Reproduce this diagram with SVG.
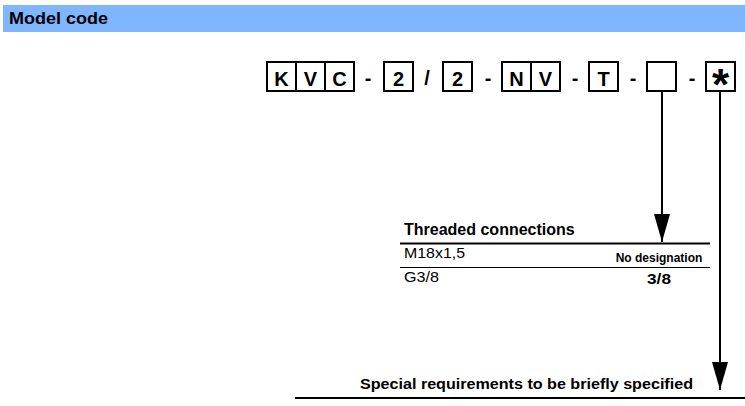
<svg xmlns="http://www.w3.org/2000/svg" width="745" height="406" viewBox="0 0 745 406">
<style>
text{font-family:"Liberation Sans",Arial,sans-serif;fill:#000}
.b{font-weight:bold}
.box{fill:#fff;stroke:#000;stroke-width:2}
.ch{font-size:20px;font-weight:bold;text-anchor:middle}
.sep{font-size:20px;font-weight:bold;text-anchor:middle}
.conn{stroke:#000;stroke-width:2;fill:none;marker-end:url(#arr)}
</style>
<defs>
<marker id="arr" viewBox="0 0 28 16" refX="28" refY="8" markerWidth="28" markerHeight="16" markerUnits="userSpaceOnUse" orient="auto">
<path d="M0,0 L28,8 L0,16 Z" fill="#000"/>
</marker>
</defs>
<rect x="3" y="5" width="742" height="27" fill="#80B5FF"/>
<text x="9" y="23.5" class="b" font-size="17" textLength="99" lengthAdjust="spacingAndGlyphs">Model code</text>

<g id="code-kvc">
<rect class="box" x="267" y="62" width="29" height="29"/>
<rect class="box" x="296" y="62" width="29" height="29"/>
<rect class="box" x="325" y="62" width="29" height="29"/>
<text class="ch" x="281.5" y="85.5">K</text>
<text class="ch" x="310.5" y="85.5">V</text>
<text class="ch" x="339.5" y="85.5">C</text>
</g>
<text class="sep" x="368" y="85">-</text>
<g id="code-2a">
<rect class="box" x="384" y="62" width="29" height="29"/>
<text class="ch" x="398.5" y="85.5">2</text>
</g>
<text class="sep" x="427" y="85">/</text>
<g id="code-2b">
<rect class="box" x="443" y="62" width="29" height="29"/>
<text class="ch" x="457.5" y="85.5">2</text>
</g>
<text class="sep" x="488" y="85">-</text>
<g id="code-nv">
<rect class="box" x="502" y="62" width="29" height="29"/>
<rect class="box" x="531" y="62" width="29" height="29"/>
<text class="ch" x="516.5" y="85.5">N</text>
<text class="ch" x="545.5" y="85.5">V</text>
</g>
<text class="sep" x="575" y="85">-</text>
<g id="code-t">
<rect class="box" x="589" y="62" width="29" height="29"/>
<text class="ch" x="603.5" y="85.5">T</text>
</g>
<text class="sep" x="633" y="85">-</text>
<g id="code-conn">
<rect class="box" x="647" y="62" width="29" height="29"/>
</g>
<text class="sep" x="692" y="85">-</text>
<g id="code-special">
<rect class="box" x="706" y="62" width="29" height="29"/>
<text class="b" x="720.5" y="100" font-size="44" text-anchor="middle">*</text>
</g>

<g id="connectors">
<line class="conn" x1="662" y1="91" x2="662" y2="242"/>
<line class="conn" x1="720" y1="91" x2="720" y2="390"/>
</g>

<g id="threaded-connections">
<text class="b" x="404" y="235" font-size="16">Threaded connections</text>
<line x1="400" y1="243.5" x2="710" y2="243.5" stroke="#000" stroke-width="2"/>
<text x="404" y="257.5" font-size="15" textLength="61" lengthAdjust="spacingAndGlyphs">M18x1,5</text>
<text class="b" x="659" y="262" font-size="12" text-anchor="middle">No designation</text>
<line x1="400" y1="267.5" x2="710" y2="267.5" stroke="#000" stroke-width="1"/>
<text x="404" y="282" font-size="15" textLength="35" lengthAdjust="spacingAndGlyphs">G3/8</text>
<text class="b" x="647" y="284" font-size="14" textLength="24" lengthAdjust="spacingAndGlyphs">3/8</text>
</g>

<g id="special-requirements">
<text class="b" x="693" y="388.5" font-size="14" text-anchor="end" textLength="333" lengthAdjust="spacingAndGlyphs">Special requirements to be briefly specified</text>
<line x1="295" y1="398" x2="745" y2="398" stroke="#000" stroke-width="2"/>
</g>
</svg>
